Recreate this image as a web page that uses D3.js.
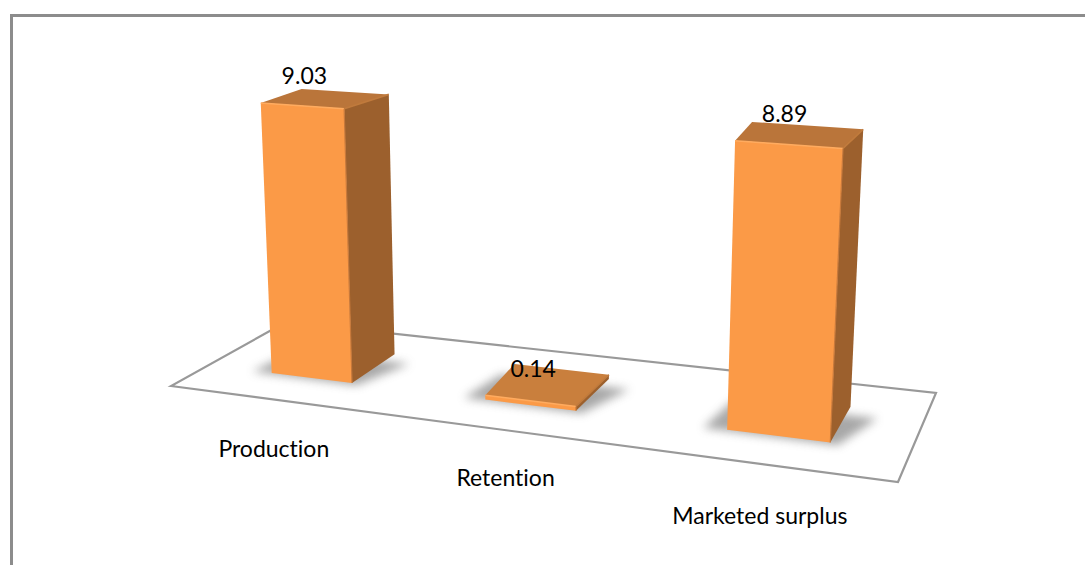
<!DOCTYPE html>
<html><head><meta charset="utf-8">
<script src="https://cdn.jsdelivr.net/npm/d3@7"></script>
<style>html,body{margin:0;padding:0;background:#fff;overflow:hidden}svg{display:block}text{font-family:Lato,"Open Sans",sans-serif;fill:#000;font-variant-ligatures:none}</style>
</head><body><svg id="c" width="1085" height="565"></svg>
<script>
const categories = ["Production","Retention","Marketed surplus"];
const values = [9.03,0.14,8.89];
const labelText = ["9.03","0.14","8.89"];

const svg = d3.select("#c");
const W=1085,H=565;

// floor quad: camera set-up (front-left, front-right, back-right, back-left)
const quad=[[171,386],[898,482],[936,393],[286,322]];
const vp=[544,7088];
function makeHomography(q){
  const [p0,p1,p2,p3]=q;
  const d1=[p1[0]-p2[0],p1[1]-p2[1]],d2=[p3[0]-p2[0],p3[1]-p2[1]],s=[p0[0]-p1[0]+p2[0]-p3[0],p0[1]-p1[1]+p2[1]-p3[1]];
  const det=d1[0]*d2[1]-d1[1]*d2[0];
  const g=(s[0]*d2[1]-s[1]*d2[0])/det,h=(d1[0]*s[1]-d1[1]*s[0])/det;
  return (u,v)=>{
    const D=g*u+h*v+1;
    return {x:((p1[0]*(1+g)-p0[0])*u+(p3[0]*(1+h)-p0[0])*v+p0[0])/D,
            y:((p1[1]*(1+g)-p0[1])*u+(p3[1]*(1+h)-p0[1])*v+p0[1])/D,D};
  };
}
const floor=makeHomography(quad);
const uScale=d3.scaleBand().domain(categories).range([0.005,1.005]).paddingInner(0.61).paddingOuter(0.305);
const vFront=0.30,vBack=0.72;
const zScale=d3.scaleLinear().domain([0,10]).range([0,0.06]);
function proj(u,v,val){
  const f=floor(u,v);
  const s=zScale(val)/(f.D+0.31+0.06*v);
  return [f.x+s*(f.x-vp[0]),f.y+s*(f.y-vp[1])];
}
const line=d3.line();
const closed=pts=>line(pts)+"Z";

const defs=svg.append("defs");
defs.append("filter").attr("id","sh").attr("x","-40%").attr("y","-60%").attr("width","180%").attr("height","220%")
  .append("feGaussianBlur").attr("stdDeviation",5);
defs.append("filter").attr("id","soft").append("feGaussianBlur").attr("stdDeviation",0.6);

// outer frame
svg.append("path").attr("d",line([[11.5,H+3],[11.5,15.5],[W+3,15.5]])).attr("fill","none").attr("stroke","#8c8c8c").attr("stroke-width",3);

// floor
svg.append("path").attr("d",closed(quad)).attr("fill","#fff").attr("stroke","#999999").attr("stroke-width",2.2);

const colFront="#FB9A47",colSide="#9C602D",colHi="#FFAB5E";

const bars=svg.append("g").selectAll("g").data(categories).join("g");
bars.each(function(cat,i){
  const g=d3.select(this),val=values[i];
  const u0=uScale(cat),u1=u0+uScale.bandwidth();
  const B=[proj(u0,vFront,0),proj(u1,vFront,0),proj(u1,vBack,0),proj(u0,vBack,0)];
  const T=[proj(u0,vFront,val),proj(u1,vFront,val),proj(u1,vBack,val),proj(u0-0.012,vBack,val)];
  // shadow on floor
  g.append("path").attr("d",closed([proj(u0-0.03,vFront-0.01,0),proj(u1+0.01,vFront-0.02,0),proj(u1+0.04,vBack-0.1,0),proj(u0-0.02,vBack-0.1,0)]))
    .attr("fill","#606060").attr("opacity",0.55).attr("filter","url(#sh)");
  const body=g.append("g");
  body.append("path").attr("d",closed([B[1],B[2],T[2],T[1]])).attr("fill",colSide);
  body.append("path").attr("d",closed([T[0],T[1],T[2],T[3]])).attr("fill",val<1?"#C97F3D":"#BA753A");
  body.append("path").attr("d",closed([B[0],B[1],T[1],T[0]])).attr("fill",colFront);
  body.append("path").attr("d",line([T[0],T[1]])).attr("stroke",colHi).attr("stroke-width",1.6).attr("fill","none").attr("filter","url(#soft)");
  body.append("path").attr("d",line([T[1],T[2]])).attr("stroke","#C07A3C").attr("stroke-width",1.6).attr("fill","none").attr("filter","url(#soft)");
  body.append("path").attr("d",line([B[1],T[1]])).attr("stroke","#C8793A").attr("stroke-width",1.2).attr("fill","none").attr("filter","url(#soft)");
});

// value labels, anchored on the back edge of each bar's top
const labelOffsets=[[-44,-8],[-32,7],[-27,-4]];
svg.append("g").selectAll("text").data(categories).join("text")
  .attr("font-size",23).attr("text-anchor","middle")
  .attr("x",(c,i)=>proj(uScale(c)+uScale.bandwidth()/2,vBack,values[i])[0]+labelOffsets[i][0])
  .attr("y",(c,i)=>proj(uScale(c)+uScale.bandwidth()/2,vBack,values[i])[1]+labelOffsets[i][1])
  .text((c,i)=>labelText[i]);

// category labels, anchored on the front edge of the floor
const catOffsets=[[-3,57],[3,56],[0,60]];
svg.append("g").selectAll("text").data(categories).join("text")
  .attr("font-size",23).attr("text-anchor","middle")
  .attr("x",(c,i)=>proj(uScale(c)+uScale.bandwidth()/2,0,0)[0]+catOffsets[i][0])
  .attr("y",(c,i)=>proj(uScale(c)+uScale.bandwidth()/2,0,0)[1]+catOffsets[i][1])
  .text(c=>c);
</script></body></html>
